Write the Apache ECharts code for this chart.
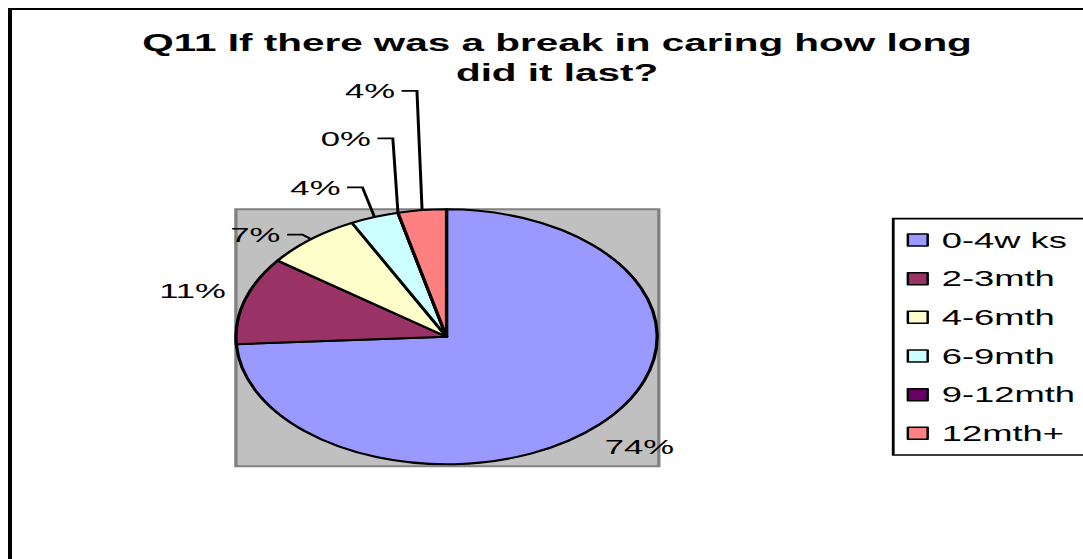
<!DOCTYPE html>
<html>
<head>
<meta charset="utf-8">
<script src="https://cdn.jsdelivr.net/npm/echarts@6/dist/echarts.min.js"></script>
<style>
  html, body { margin: 0; padding: 0; background: #fff; overflow: hidden; width: 1083px; height: 559px; position: relative; }
  #chart { position: absolute; left: 0; top: 0; height: 559px; transform-origin: 0 0; }
  /* chart-area frame; its right and bottom sides lie off the page */
  #frame { position: absolute; left: 8px; top: 8px; width: 1200px; height: 700px;
           border-left: 4px solid #000; border-top: 2.7px solid #000; pointer-events: none; z-index: 2; }
</style>
</head>
<body>
<div id="chart"></div>
<div id="frame"></div>
<script>
// Responses to Q11 (number of carers per break length)
const categories = ['0-4w ks', '2-3mth', '4-6mth', '6-9mth', '9-12mth', '12mth+'];
const counts = [20, 3, 2, 1, 0, 1];
const colors = ['#9999FF', '#993366', '#FFFFCC', '#CCFFFF', '#660066', '#FF8080'];
const titleText = 'Q11 If there was a break in caring how long\ndid it last?';

// Leader line per slice: [rise above the rim, lean to the left]; null = label just off the rim, no line
const leaders = [null, null, [4.6, 5.3], [29.7, 7.3], [74.4, 3.1], [119.2, 3.1]];
const LEADER_TAIL = 9.3, LEADER_GAP = 4;

// The chart is laid out on a narrow canvas and stretched sideways, which turns the pie into an ellipse.
// The canvas is a little wider than the page so the legend frame runs off the right edge.
const STRETCH = 1.652;
const BASE_W = 720;
const CX = 270.3, CY = 336.8, R = 127.5, LABEL_OFFSET = 33;
const FONT = "'Liberation Sans', Arial, sans-serif";

// legend frame (left, top, bottom); its right side runs off the page
const LEG_L = 540.7, LEG_T = 218.7, LEG_B = 455;

const el = document.getElementById('chart');
el.style.width = BASE_W + 'px';
el.style.transform = 'scaleX(' + STRETCH + ')';

const total = counts.reduce((a, b) => a + b, 0);

function midAngle(i) {
  let before = 0;
  for (let k = 0; k < i; k++) before += counts[k];
  return (before + counts[i] / 2) / total * Math.PI * 2;
}

const pieData = categories.map((name, i) => ({
  name: name,
  value: counts[i],
  labelLine: { show: !!leaders[i] }
}));

const chart = echarts.init(el, null, { renderer: 'svg', width: BASE_W, height: 559 });

chart.setOption({
  animation: false,
  backgroundColor: '#fff',
  color: colors,
  title: {
    text: titleText,
    left: 337.2,
    top: 28,
    padding: 0,
    textAlign: 'center',
    textVerticalAlign: 'top',
    textStyle: { color: '#000', fontFamily: FONT, fontWeight: 'bold', fontSize: 24.5, lineHeight: 30 }
  },
  legend: {
    orient: 'vertical',
    left: LEG_L,
    top: LEG_T,
    padding: [10.3, 10, 10.7, 8.1],
    icon: 'rect',
    itemWidth: 12,
    itemHeight: 12,
    itemGap: 16.67,
    selectedMode: false,
    borderWidth: 0,
    itemStyle: { borderColor: '#000', borderWidth: 1.5 },
    textStyle: { color: '#000', fontFamily: FONT, fontSize: 22, lineHeight: 22, padding: [0, 0, 0, 3.5] },
    data: categories
  },
  graphic: [
    {
      type: 'rect', z: 0, silent: true,
      shape: { x: CX - R, y: CY - R, width: 2 * R + 1, height: 2 * R + 2 },
      style: { fill: '#C0C0C0', stroke: '#808080', lineWidth: 2 }
    },
    {
      type: 'polyline', z: 0, silent: true,
      shape: { points: [[BASE_W - 5, LEG_T], [LEG_L, LEG_T], [LEG_L, LEG_B], [BASE_W - 5, LEG_B]] },
      style: { fill: 'none', stroke: '#000', lineWidth: 1.7 }
    }
  ],
  series: [{
    type: 'pie',
    center: [CX, CY],
    radius: R,
    startAngle: 90,
    clockwise: true,
    avoidLabelOverlap: false,
    percentPrecision: 0,
    silent: true,
    emphasis: { disabled: true },
    itemStyle: { borderColor: '#000', borderWidth: 2 },
    label: {
      show: true,
      position: 'outside',
      formatter: '{d}%',
      color: '#000',
      fontFamily: FONT,
      fontSize: 21
    },
    labelLine: {
      smooth: false,
      length: 10,
      length2: 5,
      lineStyle: { color: '#000', width: 1.8 }
    },
    labelLayout: function (p) {
      const i = p.dataIndex;
      const a = midAngle(i);
      const lead = leaders[i];
      if (!lead) {
        // centred on the slice's mid-angle, just outside the rim
        const d = R + LABEL_OFFSET;
        return { x: CX + d * Math.sin(a), y: CY - d * Math.cos(a), align: 'center', verticalAlign: 'middle' };
      }
      // leader rises from the rim, then runs left to the label
      const rx = CX + R * Math.sin(a), ry = CY - R * Math.cos(a);
      const ly = ry - lead[0];
      const ex = rx - lead[1];
      const tx = ex - LEADER_TAIL;
      return {
        x: tx - LEADER_GAP,
        y: ly,
        align: 'right',
        verticalAlign: 'middle',
        labelLinePoints: [[rx, ry], [ex, ly], [tx, ly]]
      };
    },
    data: pieData
  }]
});
</script>
</body>
</html>
